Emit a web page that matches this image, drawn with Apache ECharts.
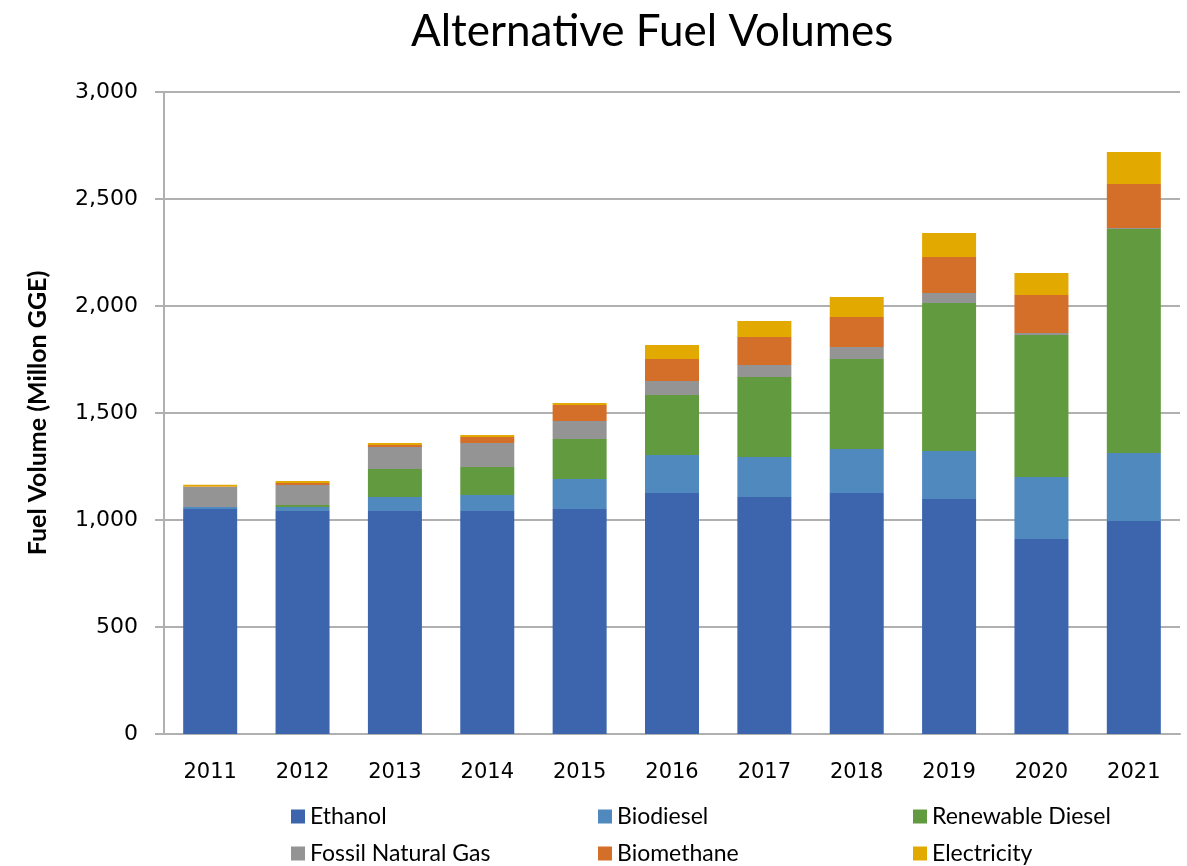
<!DOCTYPE html>
<html>
<head>
<meta charset="utf-8">
<script src="https://cdn.jsdelivr.net/npm/echarts@6/dist/echarts.min.js"></script>
<style>
  html, body { margin: 0; padding: 0; background: #fff; }
  #chart { width: 1187px; height: 866px; }
</style>
</head>
<body>
<div id="chart"></div>
<script>
// years on the x axis
const years = ['2011', '2012', '2013', '2014', '2015', '2016', '2017', '2018', '2019', '2020', '2021']

// volumes in million GGE
const ethanol = [1051, 1042, 1042, 1042, 1051, 1126, 1107, 1126, 1098, 911, 995]
const biodiesel = [10, 19, 65, 75, 141, 178, 187, 206, 224, 290, 318]
const renewableDiesel = [0, 9, 131, 131, 187, 280, 374, 420, 692, 663, 1047]
const fossilNaturalGas = [93, 94, 103, 112, 84, 66, 56, 56, 47, 10, 5]
const biomethane = [3, 9, 9, 28, 74, 102, 131, 141, 168, 177, 205]
const electricity = [8, 9, 10, 9, 10, 66, 75, 93, 112, 103, 150]

const seriesNames = ['Ethanol', 'Biodiesel', 'Renewable Diesel', 'Fossil Natural Gas', 'Biomethane', 'Electricity']
const seriesData = [ethanol, biodiesel, renewableDiesel, fossilNaturalGas, biomethane, electricity]
const colors = ['#3c65ad', '#4f89bd', '#629a3f', '#949494', '#d46f29', '#e2aa00']

// legend slots: 3 columns x 2 rows
const legendLeft = [286, 593, 908]
const legendTop = [800, 837]

const chart = echarts.init(document.getElementById('chart'))

const option = {
  animation: false,
  color: colors,
  title: {
    text: 'Alternative Fuel Volumes',
    left: 406,
    top: 5,
    textStyle: {
      fontFamily: 'Lato',
      fontSize: 44,
      fontWeight: 'normal',
      color: '#000'
    }
  },
  legend: seriesNames.map((name, i) => ({
    data: [name],
    left: legendLeft[i % 3],
    top: legendTop[Math.floor(i / 3)],
    icon: 'rect',
    itemWidth: 14,
    itemHeight: 14,
    itemGap: 6,
    textStyle: {
      fontFamily: 'Lato',
      fontSize: 23,
      color: '#000'
    }
  })),
  grid: {
    left: 164,
    right: 7,
    top: 92,
    bottom: 132
  },
  xAxis: {
    type: 'category',
    data: years,
    axisLine: { lineStyle: { color: '#b0b0b0', width: 2 } },
    axisTick: { show: false },
    axisLabel: {
      margin: 28,
      fontFamily: 'DejaVu Sans',
      fontSize: 21,
      color: '#000'
    }
  },
  yAxis: {
    type: 'value',
    min: 0,
    max: 3000,
    interval: 500,
    name: 'Fuel Volume (Millon GGE)',
    nameLocation: 'middle',
    nameGap: 114,
    nameTextStyle: {
      fontFamily: 'Lato',
      fontWeight: 'bold',
      fontSize: 25,
      color: '#000'
    },
    axisLine: { show: true, lineStyle: { color: '#b0b0b0', width: 2 } },
    axisTick: { show: true, length: 9, lineStyle: { color: '#b0b0b0', width: 2 } },
    splitLine: { lineStyle: { color: '#b0b0b0', width: 2 } },
    axisLabel: {
      margin: 26,
      fontFamily: 'DejaVu Sans',
      fontSize: 22,
      color: '#000',
      formatter: v => v.toLocaleString('en-US')
    }
  },
  series: seriesNames.map((name, i) => ({
    name: name,
    type: 'bar',
    stack: 'total',
    barWidth: 54,
    data: seriesData[i],
    itemStyle: { color: colors[i] }
  }))
}

chart.setOption(option)
</script>
</body>
</html>
